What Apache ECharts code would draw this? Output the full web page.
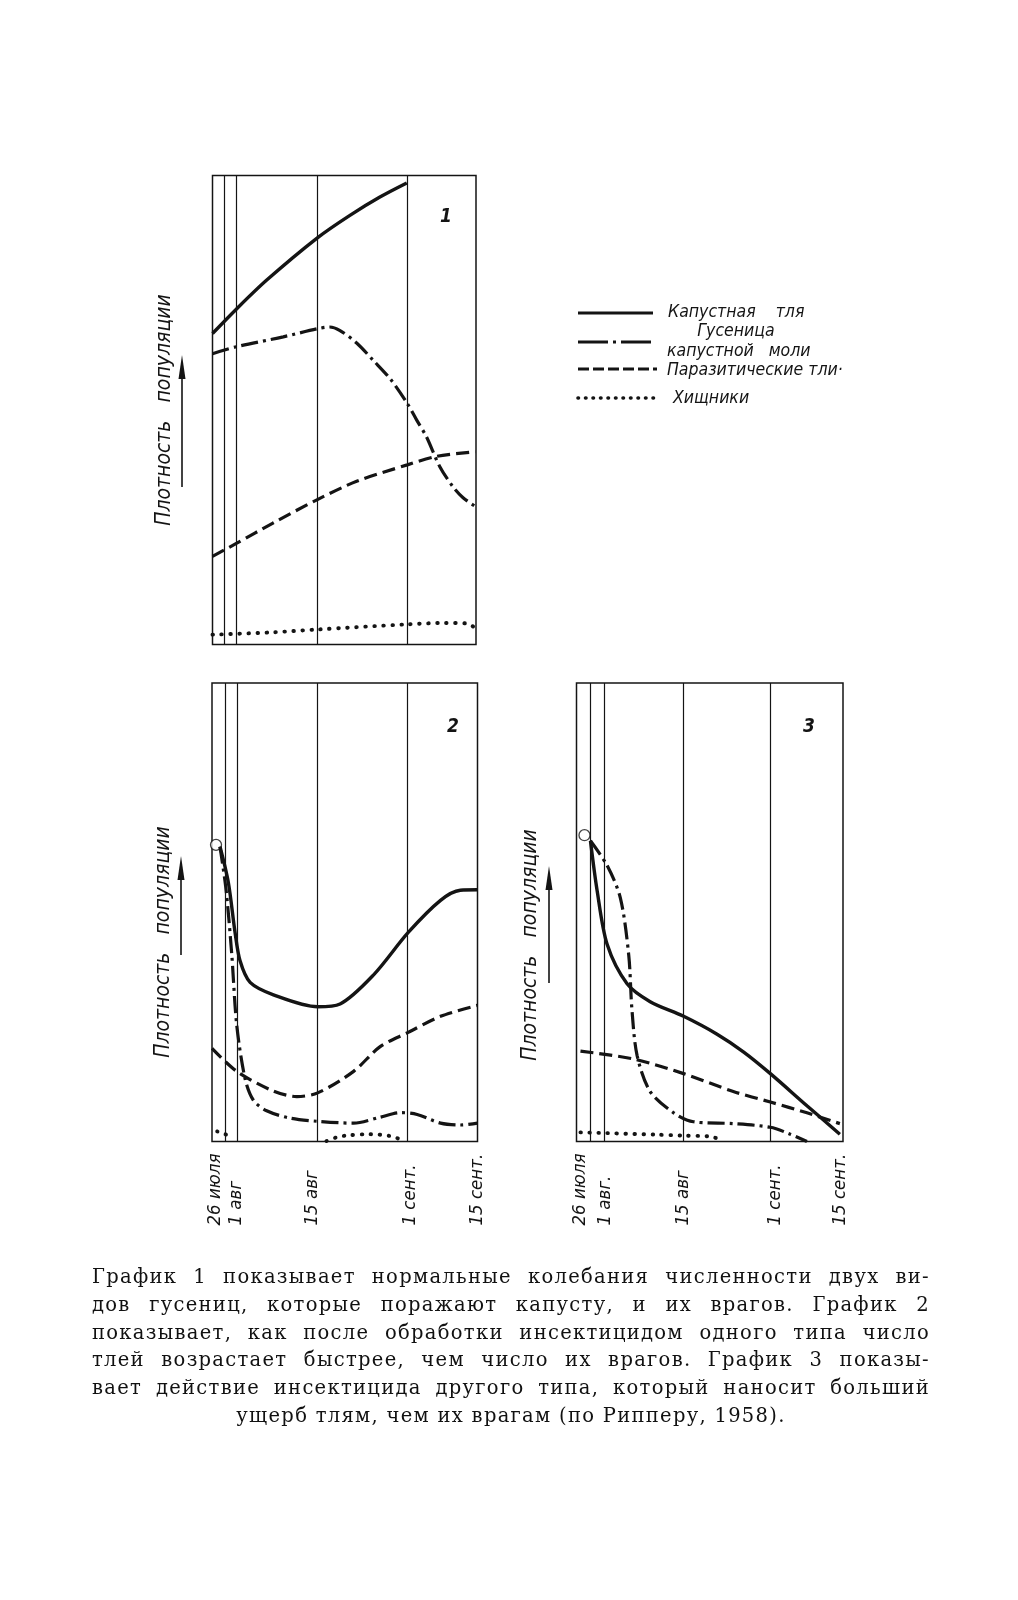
<!DOCTYPE html>
<html>
<head>
<meta charset="utf-8">
<script src="https://cdn.jsdelivr.net/npm/echarts@6/dist/echarts.min.js"></script>
<style>
  html, body { margin: 0; padding: 0; background: #fff; }
  #chart { position: absolute; left: 0; top: 0; width: 1018px; height: 1600px; }
  #caption { position: absolute; left: 92px; top: 1263px; width: 838px;
    font-family: "DejaVu Serif", "Liberation Serif", serif; font-size: 19.5px;
    line-height: 27.8px; color: #111; letter-spacing: 1.3px; }
  #caption .j { text-align: justify; text-align-last: justify; }
  #caption .c { text-align: center; }
</style>
</head>
<body>
<div id="chart"></div>
<div id="caption">
  <div class="j">График 1 показывает нормальные колебания численности двух ви-</div>
  <div class="j">дов гусениц, которые поражают капусту, и их врагов. График 2</div>
  <div class="j">показывает, как после обработки инсектицидом одного типа число</div>
  <div class="j">тлей возрастает быстрее, чем число их врагов. График 3 показы-</div>
  <div class="j">вает действие инсектицида другого типа, который наносит больший</div>
  <div class="c">ущерб тлям, чем их врагам (по Рипперу, 1958).</div>
</div>
<script>
// ---------- DATA (x = days after 26 July, y = relative population density, 0..100) ----------
const X_MAX = 51;

// vertical date lines (days)
const dateLines1 = [2.25, 4.65, 20.3, 37.7];
const dateLines2 = [2.5, 4.8, 20.3, 37.55];
const dateLines3 = [2.58, 5.26, 20.4, 37.0];

// tick labels
const tickVals2 = [0.6, 4.7, 19.2, 38.0, 50.9];
const tickText2 = ['26 июля', '1 авг', '15 авг', '1 сент.', '15 сент.'];
const tickVals3 = [0.7, 5.45, 20.4, 38.0, 50.5];
const tickText3 = ['26 июля', '1 авг.', '15 авг', '1 сент.', '15 сент.'];

// legend names
const names = ['Капустная тля', 'Гусеница капустной моли', 'Паразитические тли', 'Хищники'];

// Chart 1 — normal fluctuations
const c1Aphid = [[0,66.3],[4.7,71.6],[10.5,77.7],[20.3,86.7],[26.6,91.5],[32.4,95.4],[37.6,98.4]];
const c1Moth = [[0,62.0],[4.7,63.5],[13.7,65.6],[20.2,67.3],[22.7,67.7],[24.6,67.0],[27.9,64.3],[31.1,60.6],[34.5,56.5],[37.7,51.4],[39.5,47.9],[41.4,44.3],[44.0,37.9],[46.5,33.7],[48.5,31.3],[50.9,29.4]];
const c1Parasite = [[0,18.8],[4.7,21.6],[11.7,25.9],[20.3,30.9],[27.9,34.8],[37.7,38.3],[43.3,40.1],[50.9,41.1]];
const c1Predator = [[0,2.1],[11.7,2.6],[20.3,3.2],[37.7,4.3],[45.0,4.6],[49.1,4.5],[50.9,3.5]];

// Chart 2 — insecticide of the first type
const c2Start = [[0.77,64.7]];
const c2Aphid = [[1.54,64.3],[3.14,56.5],[4.43,45.6],[5.39,39.4],[7.32,34.7],[11.8,32.0],[20.3,29.4],[24.6,30.0],[31.0,36.3],[37.7,45.6],[43.9,52.6],[47.7,54.8],[51,54.9]];
const c2Moth = [[1.54,64.3],[2.7,54.9],[3.79,40.9],[4.75,25.4],[6.35,13.7],[7.95,9.0],[10.5,6.7],[15.0,5.1],[20.3,4.4],[27.2,4.0],[32.3,5.3],[36.2,6.3],[39.4,5.9],[43.9,4.0],[47.7,3.6],[51,4.0]];
const c2Parasite = [[0,20.3],[4.75,15.3],[11.8,11.0],[16.3,9.8],[20.3,10.6],[27.2,15.3],[32.3,20.7],[37.7,23.8],[43.9,27.3],[51,29.7]];
const c2PredatorEarly = [[1.0,2.2],[2.5,1.6],[3.9,1.0]];
const c2PredatorLate = [[22.0,0.1],[23.9,0.9],[25.9,1.3],[30.3,1.6],[34.2,1.2],[36.1,0.5]];

// Chart 3 — insecticide of the second type
const c3Start = [[1.53,66.8]];
const c3Aphid = [[2.67,65.6],[3.95,54.7],[5.86,43.0],[9.68,34.4],[14.1,30.5],[20.5,27.3],[26.9,23.4],[32.0,19.5],[37.1,14.8],[44.1,7.8],[50.4,1.6]];
const c3Moth = [[2.67,65.6],[5.86,60.2],[8.4,53.1],[10.0,40.6],[10.6,28.9],[11.6,18.75],[14.1,10.9],[18.6,6.25],[22.4,4.3],[30.0,3.9],[37.1,3.1],[40.9,1.6],[44.1,0]];
const c3Parasite = [[0.76,19.7],[10.9,18.0],[20.5,14.8],[30.0,10.9],[37.1,8.6],[44.1,6.25],[50.4,3.9]];
const c3Predator = [[0.76,2.0],[15.1,1.5],[20.2,1.3],[25.3,1.1],[27.8,0.4]];

// ---------- STYLE / LAYOUT ----------
const INK = '#141414';
const ITAL = '"DejaVu Sans Condensed", "Liberation Sans Narrow", "DejaVu Sans", sans-serif';
const grids = [
  { left: 212.5, top: 175.5, width: 263.5, height: 469 },
  { left: 212, top: 683, width: 265.5, height: 458.5 },
  { left: 576.5, top: 683, width: 266.5, height: 458.5 }
];
const styles = {
  aphid:    { color: INK, width: 3.4, type: 'solid' },
  moth:     { color: INK, width: 3.2, type: [17, 5, 3, 5] },
  parasite: { color: INK, width: 3.2, type: [13, 6] },
  predator: { color: INK, width: 3.9, type: [0.5, 8.5], cap: 'round' }
};

function lineSeries(name, data, gi, st, extra) {
  return Object.assign({
    type: 'line', name: name, xAxisIndex: gi, yAxisIndex: gi, data: data,
    smooth: 0.3, symbol: 'none', showSymbol: false, silent: true,
    lineStyle: st, z: 3
  }, extra || {});
}
function vLines(vals) {
  return {
    silent: true, symbol: ['none', 'none'], label: { show: false },
    lineStyle: { color: INK, width: 1.2, type: 'solid' },
    emphasis: { disabled: true },
    data: vals.map(v => ({ xAxis: v }))
  };
}
function startCircle(data, gi) {
  return { type: 'scatter', xAxisIndex: gi, yAxisIndex: gi, data: data, symbol: 'circle',
    symbolSize: 11, silent: true, z: 2,
    itemStyle: { color: '#fff', borderColor: INK, borderWidth: 1.3 } };
}
function xLabel(vals, texts) {
  return {
    show: true, customValues: vals, rotate: 90, align: 'left', verticalAlign: 'middle',
    margin: 84, color: INK, fontSize: 18.5, fontStyle: 'italic', fontFamily: ITAL,
    hideOverlap: false, showMinLabel: true, showMaxLabel: true,
    formatter: function (v) {
      let best = 0;
      for (let i = 1; i < vals.length; i++) if (Math.abs(vals[i] - v) < Math.abs(vals[best] - v)) best = i;
      return texts[best];
    }
  };
}

const yTitle = 'Плотность   популяции';
function yLabelText(cx, cy) {
  return { type: 'text', x: cx, y: cy, rotation: Math.PI / 2, silent: true,
    style: { text: yTitle, align: 'center', verticalAlign: 'middle', fill: INK,
      font: 'italic 21px ' + ITAL } };
}
function arrow(x, yTop, yBot) {
  return [
    { type: 'line', silent: true, shape: { x1: x, y1: yBot, x2: x, y2: yTop + 18 },
      style: { stroke: INK, lineWidth: 1.6 } },
    { type: 'polygon', silent: true, shape: { points: [[x, yTop], [x - 3.5, yTop + 24], [x + 3.5, yTop + 24]] },
      style: { fill: INK } }
  ];
}
function numLabel(t, x, y) {
  return { type: 'text', x: x, y: y, silent: true,
    style: { text: t, align: 'center', verticalAlign: 'middle', fill: INK, font: 'italic bold 19px ' + ITAL } };
}
function legLine(y, x2, dash, w, cap) {
  return { type: 'line', silent: true, shape: { x1: 578, y1: y, x2: x2, y2: y },
    style: { stroke: INK, lineWidth: w, lineDash: dash, lineCap: cap || 'butt' } };
}
function legText(t, x, y, align) {
  return { type: 'text', x: x, y: y, silent: true,
    style: { text: t, align: align || 'left', verticalAlign: 'middle', fill: INK, font: 'italic 17.5px ' + ITAL } };
}

const graphic = [].concat(
  [yLabelText(165, 410), yLabelText(164, 942), yLabelText(531, 945)],
  arrow(182, 355, 487), arrow(181, 856, 955), arrow(549, 866, 983),
  [numLabel('1', 446, 217), numLabel('2', 453, 727), numLabel('3', 809, 727)],
  [
    legLine(313, 653, null, 3.2),
    legLine(342, 653, [30, 5, 3, 5], 3),
    legLine(369, 657, [11, 4], 3),
    legLine(398, 657, [0.5, 7], 3.6, 'round'),
    legText('Капустная    тля', 668, 312),
    legText('Гусеница', 736, 331, 'center'),
    legText('капустной   моли', 667, 351),
    legText('Паразитические тли·', 667, 370),
    legText('Хищники', 673, 398)
  ]
);

const option = {
  animation: false,
  backgroundColor: '#fff',
  grid: grids.map(g => Object.assign({ show: true, borderColor: INK, borderWidth: 1.5,
    backgroundColor: 'transparent', containLabel: false, outerBoundsMode: 'none' }, g)),
  xAxis: [0, 1, 2].map(i => ({
    type: 'value', gridIndex: i, min: 0, max: X_MAX,
    axisLine: { show: false }, axisTick: { show: false }, splitLine: { show: false },
    axisLabel: i === 0 ? { show: false } : (i === 1 ? xLabel(tickVals2, tickText2) : xLabel(tickVals3, tickText3))
  })),
  yAxis: [0, 1, 2].map(i => ({ type: 'value', gridIndex: i, min: 0, max: 100, show: false })),
  series: [
    lineSeries(names[0], c1Aphid, 0, styles.aphid, { markLine: vLines(dateLines1) }),
    lineSeries(names[1], c1Moth, 0, styles.moth),
    lineSeries(names[2], c1Parasite, 0, styles.parasite),
    lineSeries(names[3], c1Predator, 0, styles.predator),

    startCircle(c2Start, 1),
    lineSeries(names[0], c2Aphid, 1, styles.aphid, { markLine: vLines(dateLines2) }),
    lineSeries(names[1], c2Moth, 1, styles.moth),
    lineSeries(names[2], c2Parasite, 1, styles.parasite),
    lineSeries(names[3], c2PredatorEarly, 1, styles.predator),
    lineSeries(names[3], c2PredatorLate, 1, styles.predator),

    startCircle(c3Start, 2),
    lineSeries(names[0], c3Aphid, 2, styles.aphid, { markLine: vLines(dateLines3) }),
    lineSeries(names[1], c3Moth, 2, styles.moth),
    lineSeries(names[2], c3Parasite, 2, styles.parasite),
    lineSeries(names[3], c3Predator, 2, styles.predator)
  ],
  graphic: graphic
};

const chart = echarts.init(document.getElementById('chart'), null, { renderer: 'canvas', width: 1018, height: 1600 });
chart.setOption(option);
</script>
</body>
</html>
